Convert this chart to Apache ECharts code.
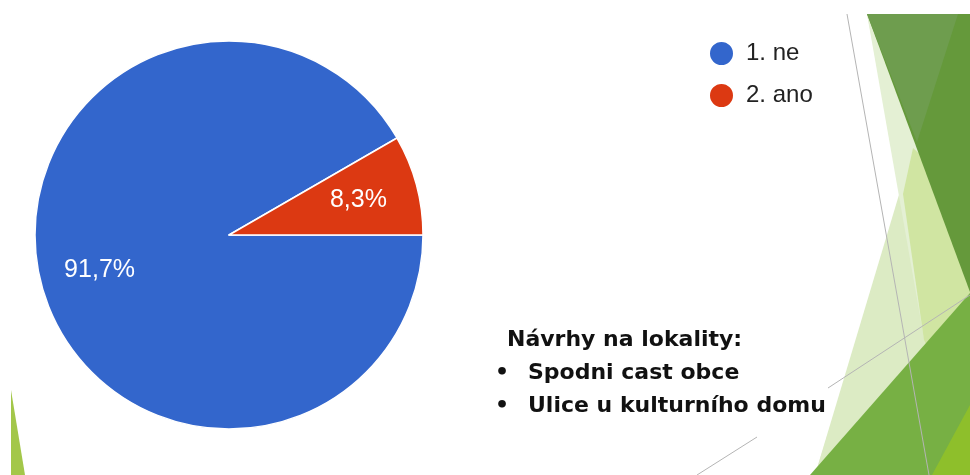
<!DOCTYPE html>
<html>
<head>
    <meta charset="utf-8">
    <title>Návrhy na lokality</title>
    <script src="https://cdn.jsdelivr.net/npm/echarts@6/dist/echarts.min.js"></script>
    <style>
        html, body { margin: 0; padding: 0; background: #fff; }
    </style>
</head>
<body>
<div id="chart-container" style="width: 970px; height: 475px;"></div>
<script>
    // data
    var categories = ['1. ne', '2. ano'];
    var answerCounts = [11, 1];
    var noteTitle = 'Návrhy na lokality:';
    var noteItems = ['Spodni cast obce', 'Ulice u kulturního domu'];

    var sliceColors = ['#3366cc', '#dc3912'];
    var font = '"Liberation Sans", Arial, sans-serif';

    var pieData = categories.map(function (name, i) {
        return { name: name, value: answerCounts[i], itemStyle: { color: sliceColors[i] } };
    });
    // transparent copy, only used to place labels further out
    var labelData = categories.map(function (name, i) {
        return { name: name, value: answerCounts[i] };
    });

    // slide decoration (Facet theme facets)
    function poly(points, fill, z) {
        return { type: 'polygon', z: z || 0, silent: true, shape: { points: points }, style: { fill: fill } };
    }
    function line(x1, y1, x2, y2) {
        return { type: 'line', z: 2, silent: true, shape: { x1: x1, y1: y1, x2: x2, y2: y2 },
                 style: { stroke: '#b4b4b4', lineWidth: 1 } };
    }
    var deco = [
        poly([[867, 14], [903, 194], [815, 475], [970, 475], [970, 14]], '#e2eed0'),
        poly([[913, 148], [815, 475], [970, 475], [970, 200]], '#dcebc4'),
        poly([[867, 14], [948, 475], [970, 475], [970, 14]], '#e4f0d4'),
        poly([[913, 148], [903, 194], [924, 340], [960, 420], [970, 400], [970, 200]], '#d0e5a2'),
        poly([[867, 14], [970, 14], [970, 292]], '#65993b', 1),
        poly([[867, 14], [958, 14], [917, 142]], '#6e9d4e', 1),
        poly([[970, 293], [810, 475], [970, 475]], '#77b044', 1),
        poly([[970, 405], [932, 475], [970, 475]], '#8ebf2b', 1),
        poly([[11, 390], [11, 475], [25, 475]], '#a3c74a', 1),
        line(847, 14, 929, 475),
        line(828, 388, 970, 295),
        line(697, 475, 757, 437)
    ];

    // text box with suggestions
    var noteStyle = { fill: '#111', fontFamily: '"DejaVu Sans", sans-serif', fontWeight: 'bold',
                      fontSize: 22, verticalAlign: 'middle' };
    deco.push({ type: 'text', z: 3, left: 507, top: 329,
                style: Object.assign({ text: noteTitle }, noteStyle) });
    noteItems.forEach(function (t, i) {
        deco.push({ type: 'text', z: 3, left: 495, top: 362 + i * 33,
                    style: Object.assign({ text: '•' }, noteStyle) });
        deco.push({ type: 'text', z: 3, left: 528, top: 362 + i * 33,
                    style: Object.assign({ text: t }, noteStyle) });
    });

    var option = {
        animation: false,
        backgroundColor: '#fff',
        graphic: deco,
        legend: {
            orient: 'vertical',
            left: 708,
            top: 40,
            padding: 0,
            icon: 'circle',
            itemWidth: 25,
            itemHeight: 25,
            itemGap: 15,
            selectedMode: false,
            textStyle: { fontFamily: font, fontSize: 24, color: '#222', padding: [0, 0, 0, 7] },
            data: categories.map(function (name, i) {
                return { name: name, itemStyle: { color: sliceColors[i] } };
            })
        },
        series: [
            {
                type: 'pie',
                center: [229, 235],
                radius: [0, 194],
                startAngle: 0,
                clockwise: true,
                silent: true,
                label: { show: false },
                labelLine: { show: false },
                itemStyle: { borderColor: '#fff', borderWidth: 1.5 },
                data: pieData
            },
            {
                type: 'pie',
                center: [229, 235],
                radius: [68, 194],
                startAngle: 0,
                clockwise: true,
                silent: true,
                itemStyle: { color: 'rgba(0,0,0,0)' },
                label: {
                    show: true,
                    position: 'inside',
                    color: '#fff',
                    fontFamily: font,
                    fontSize: 25,
                    formatter: function (p) {
                        return p.percent.toFixed(1).replace('.', ',') + '%';
                    }
                },
                labelLine: { show: false },
                data: labelData
            }
        ]
    };

    var chart = echarts.init(document.getElementById('chart-container'));
    chart.setOption(option);
</script>
</body>
</html>
